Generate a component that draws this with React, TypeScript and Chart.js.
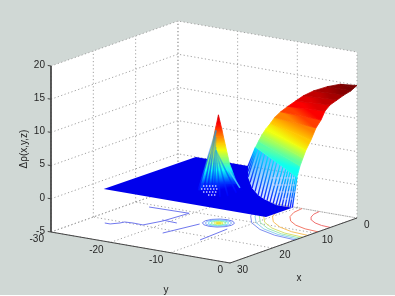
import React, { useEffect, useRef } from "react";
import { Chart, registerables } from "chart.js";

Chart.register(...registerables);

// ---------- axis ticks ----------
const xTicks = [0, 10, 20, 30];
const yTicks = [-30, -20, -10, 0];
const zTicks = [-5, 0, 5, 10, 15, 20];

// ---------- surface: broad ridge around x=0, y=0 ----------
const arcZ = [14.95, 14.7, 14, 13, 12, 11, 10, 9, 8, 7, 6, 5, 4, 3];
const arcLeftY = [0, -2.85, -5, -7.3, -9, -10.3, -11.6, -12.8, -13.8, -14.5, -15.3, -15.95, -16.5, -17];
const arcRightX = [0, 0.6, 0, -0.56, -0.75, -0.94, -0.84, 0.53, 1.52, 4.31, 6.21, 7.05, 7.89, 10.08];
const arcRightY = [0, -0.08, -1, -2.57, -3.88, -5.19, -5.95, -5.65, -5.79, -4.65, -4.14, -4.05, -3.95, -2.9];

const finTopX = [0, 0.2, 0.4, 1.01, 1.51, 2.22, 3.02, 3.73, 4.44, 5.14, 5.95, 6.65, 7.36, 7.86, 8.37, 8.87, 9.37, 9.78, 10.08];
const finTopY = [-17, -16.72, -16.44, -15.59, -14.89, -13.9, -12.77, -11.78, -10.8, -9.81, -8.68, -7.69, -6.71, -6, -5.3, -4.59, -3.89, -3.32, -2.9];
const finBaseX = [0, 2.5, 4.95, 7.26, 9.57, 10.9, 12.24, 12.9, 13.57, 14, 14.44, 14.88, 15.32, 15.32, 15.31, 15.3, 15.29, 15.28, 15.27];
const finBaseY = [-18.25, -16.5, -14.75, -12.78, -10.8, -9.35, -7.9, -6.93, -5.96, -5.15, -4.33, -3.5, -2.7, -2.2, -1.7, -1.2, -0.71, -0.35, 0];
const hatchX = [[6.51, 4.65], [9.65, 7.8], [12.32, 10.92], [15.14, 14.05]];
const hatchY = [[-9.62, -6.92], [-7.4, -4.69], [-4.5, -2.47], [-1.82, -0.25]];

// ---------- flat sheet at z = 0 ----------
const sheetX = [21.5, 0, 0, 4.95, 9.57, 12.24, 13.57, 14.44, 15.32, 15.29, 15.27, 21.5];
const sheetY = [-27.2, -27, -18.25, -14.75, -10.8, -7.9, -5.96, -4.33, -2.7, -0.71, 0, 0];

// ---------- narrow peak near x=13, y=-14 ----------
const peakZ = [11.3, 10, 9, 8, 7, 6, 5, 4, 3, 2, 1, 0];
const peakLeftX = [13, 13.14, 13.26, 13.36, 13.47, 13.6, 13.78, 13.93, 14.09, 14.24, 14.4, 14.55];
const peakLeftY = [-14, -14.2, -14.37, -14.53, -14.68, -14.88, -15.13, -15.35, -15.58, -15.8, -16.03, -16.25];
const peakRightX = [13, 12.85, 12.72, 12.61, 12.49, 12.38, 12.26, 12.15, 11.95, 11.76, 11.53, 11.14];
const peakRightY = [-14, -13.77, -13.59, -13.44, -13.26, -13.1, -12.92, -12.76, -12.48, -12.2, -11.86, -11.3];
const peakFootX = [14.55, 14.9, 15.4, 15.8, 16.08, 16.08, 15, 13];
const peakFootY = [-16.25, -15.2, -14.2, -13.2, -12.5, -11.55, -11, -11];
const peakMeshTopZ = [9, 9, 9, 8, 6.5, 6, 6, 6];
const peakDotsX = [[12.47, 11.4], [13.97, 12.58], [15.16, 14], [16.11, 15.5]];
const peakDotsY = [[-16.96, -15.38], [-16.23, -14.2], [-15.05, -13.36], [-13.54, -12.64]];

// ---------- contours on the floor, z = -5 ----------
const arcRadii = [6.3, 9.2, 11.6, 12.8, 13.4, 14, 14.6];
const arcColors = ["#f07070", "#f47a6a", "#f8c060", "#d8e070", "#a0e8b0", "#90d0f0", "#8090f0"];
const arcCos = [1, 0.966, 0.866, 0.707, 0.5, 0.259, 0];
const arcSin = [0, 0.259, 0.5, 0.707, 0.866, 0.966, 1];
const ringRadii = [2.2, 1.8, 1.4, 1, 0.6, 0.3];
const ringColors = ["#7080f0", "#80b0f8", "#70e0f0", "#90f0a0", "#e8f060", "#e8e020"];
const ringCos = [1, 0.866, 0.5, 0, -0.5, -0.866, -1, -0.866, -0.5, 0, 0.5, 0.866, 1];
const ringSin = [0, 0.5, 0.866, 1, 0.866, 0.5, 0, -0.5, -0.866, -1, -0.866, -0.5, 0];
const ringCenterX = 13;
const ringCenterY = -14;
const stepLinesX = [
  [21.8, 21.8, 20.6, 19.8, 19.6, 19.7, 16.4, 10.9],
  [11.2, 10.9],
  [16, 16.2],
  [21.8, 14.9],
  [22, 15],
];
const stepLinesY = [
  [-26.8, -25.9, -25.1, -24.9, -23.6, -21.9, -20.9, -20.4],
  [-26.9, -20.4],
  [-21.3, -18.7],
  [-17.1, -15.8],
  [-10.7, -11.1],
];

// ---------- colour map over z ----------
const colorZ = [-0.3, 0.5, 2.8, 6.2, 9.9, 14.5];
const colorRGB = [[0, 0, 235], [0, 0, 255], [0, 255, 255], [255, 255, 0], [255, 0, 0], [120, 0, 0]];

const BG = "#d0d8d5";

function zColor(z: number, a = 1) {
  let i = 0;
  while (i < colorZ.length - 2 && z > colorZ[i + 1]) i++;
  const t = Math.max(0, Math.min(1, (z - colorZ[i]) / (colorZ[i + 1] - colorZ[i])));
  const c = colorRGB[i].map((v, k) => Math.round(v + (colorRGB[i + 1][k] - v) * t));
  return `rgba(${c[0]},${c[1]},${c[2]},${a})`;
}

// Orthographic view of the axes box
function view(x: number, y: number, z: number) {
  const u = 30 - x;
  return {
    x: 230 + u * 4.233 + y * 5.967,
    y: 263 - u * 1.5 + y * 1.033 - (z + 5) * 6.64,
  };
}

type P3 = [number, number, number];

const polyline = (pts: P3[], color: string, width = 1, dash: number[] = []) => ({
  type: "scatter" as const,
  showLine: true,
  data: pts.map((p) => view(p[0], p[1], p[2])),
  borderColor: color,
  borderWidth: width,
  borderDash: dash,
  pointRadius: 0,
  clip: false,
  tension: 0,
});

const shape = (pts: P3[], extra: Record<string, unknown>) => ({
  type: "scatter" as const,
  showLine: false,
  data: pts.map((p) => view(p[0], p[1], p[2])),
  pointRadius: 0,
  clip: false,
  ...extra,
});

function buildDatasets() {
  const out: any[] = [];
  // walls and floor
  out.push(
    shape(
      [
        [30, -30, -5],
        [30, -30, 20],
        [0, -30, 20],
        [0, 0, 20],
        [0, 0, -5],
        [30, 0, -5],
      ],
      { solid: "#ffffff" },
    ),
  );
  // grid
  const grid = "#a2a2a2";
  const dash = [1.2, 2.4];
  zTicks.forEach((z) =>
    out.push(polyline([[30, -30, z], [0, -30, z], [0, 0, z]], grid, 1, dash)),
  );
  xTicks.forEach((x) => {
    out.push(polyline([[x, -30, -5], [x, -30, 20]], grid, 1, dash));
    out.push(polyline([[x, 0, -5], [x, -30, -5]], grid, 1, dash));
  });
  yTicks.forEach((y) => {
    out.push(polyline([[0, y, -5], [0, y, 20]], grid, 1, dash));
    out.push(polyline([[30, y, -5], [0, y, -5]], grid, 1, dash));
  });
  // floor contours
  stepLinesX.forEach((xs, i) =>
    out.push(polyline(xs.map((x, k) => [x, stepLinesY[i][k], -5] as P3), "#7078ee", 1)),
  );
  arcRadii.forEach((r, i) =>
    out.push(polyline(arcCos.map((c, k) => [r * c, -r * arcSin[k], -5] as P3), arcColors[i], 1)),
  );
  ringRadii.forEach((r, i) =>
    out.push(
      polyline(
        ringCos.map((c, k) => [ringCenterX + r * c, ringCenterY - r * ringSin[k], -5] as P3),
        ringColors[i],
        1,
      ),
    ),
  );
  // sheet
  out.push(shape(sheetX.map((x, i) => [x, sheetY[i], 0] as P3), { solid: "rgb(0,0,236)" }));

  // ridge: lower translucent region and its fins
  out.push(
    shape(
      [
        [finTopX[0], finTopY[0], 3],
        [finTopX[18], finTopY[18], 3],
        ...finBaseX.map((x, i) => [x, finBaseY[i], 0] as P3).reverse(),
      ],
      { vertical: ["rgba(0,170,255,0.85)", "rgba(130,150,255,0.12)"] },
    ),
  );
  finTopX.forEach((x, i) => {
    out.push(
      shape([[x, finTopY[i], 3], [finBaseX[i], finBaseY[i], 0]], {
        stroke: [zColor(2.6), "rgb(20,30,255)"],
        strokeWidth: 1.3,
      }),
    );
  });
  hatchX.forEach((xs, i) =>
    out.push(
      polyline(
        [[xs[0], hatchY[i][0], 1], [xs[1], hatchY[i][1], 1]],
        "rgba(205,215,255,0.85)",
        1,
        [3, 1],
      ),
    ),
  );
  // ridge: colour bands
  for (let i = arcZ.length - 2; i >= 0; i--) {
    out.push(
      shape(
        [
          [0, arcLeftY[i], arcZ[i]],
          [arcRightX[i], arcRightY[i], arcZ[i]],
          [arcRightX[i + 1], arcRightY[i + 1], arcZ[i + 1]],
          [0, arcLeftY[i + 1], arcZ[i + 1]],
        ],
        { band: [zColor(arcZ[i]), zColor(arcZ[i + 1])] },
      ),
    );
  }

  // peak: colour bands
  for (let i = peakZ.length - 2; i >= 0; i--) {
    out.push(
      shape(
        [
          [peakLeftX[i], peakLeftY[i], peakZ[i]],
          [peakRightX[i], peakRightY[i], peakZ[i]],
          [peakRightX[i + 1], peakRightY[i + 1], peakZ[i + 1]],
          [peakLeftX[i + 1], peakLeftY[i + 1], peakZ[i + 1]],
        ],
        { band: [zColor(peakZ[i]), zColor(peakZ[i + 1])] },
      ),
    );
  }
  // peak: mesh lines falling to its foot
  peakFootX.forEach((x, i) => {
    out.push(
      shape([[13.3, -14.2, peakMeshTopZ[i]], [x, peakFootY[i], 0]], {
        stroke: ["rgba(0,170,255,0.3)", "rgba(0,0,255,0.9)"],
        strokeWidth: 1.6,
      }),
    );
  });
  out.push(
    shape([[12.3, -13.05, 3.4], [11.3, -11.6, 0.3]], {
      stroke: ["rgba(60,230,240,1)", "rgba(60,170,255,1)"],
      strokeWidth: 1.5,
    }),
  );
  peakDotsX.forEach((xs, i) =>
    out.push(
      polyline(
        [[xs[0], peakDotsY[i][0], 0], [xs[1], peakDotsY[i][1], 0]],
        "rgba(225,230,255,0.9)",
        1.4,
        [1.4, 1.6],
      ),
    ),
  );

  // solid axes
  const axis = "#454545";
  out.push(polyline([[30, -30, 20], [30, -30, -5], [30, 0, -5], [0, 0, -5]], axis, 1));
  zTicks.forEach((z) => out.push(polyline([[30, -30, z], [30, -30.55, z]], axis, 1)));
  return out.reverse();
}

const surfacePainter = {
  id: "surfacePainter",
  beforeDraw(chart: any) {
    const { ctx } = chart;
    ctx.save();
    ctx.fillStyle = BG;
    ctx.fillRect(0, 0, 395, 295);
    ctx.restore();
  },
  beforeDatasetDraw(chart: any, args: any) {
    const ds = chart.data.datasets[args.index];
    const pts = args.meta.data;
    if (!pts.length) return;
    const { ctx } = chart;
    const trace = () => {
      ctx.beginPath();
      pts.forEach((p: any, i: number) => (i ? ctx.lineTo(p.x, p.y) : ctx.moveTo(p.x, p.y)));
    };
    ctx.save();
    if (ds.solid) {
      trace();
      ctx.closePath();
      ctx.fillStyle = ds.solid;
      ctx.fill();
    }
    if (ds.band) {
      const g = ctx.createLinearGradient(
        (pts[0].x + pts[1].x) / 2,
        (pts[0].y + pts[1].y) / 2,
        (pts[2].x + pts[3].x) / 2,
        (pts[2].y + pts[3].y) / 2,
      );
      g.addColorStop(0, ds.band[0]);
      g.addColorStop(1, ds.band[1]);
      trace();
      ctx.closePath();
      ctx.fillStyle = g;
      ctx.strokeStyle = g;
      ctx.lineWidth = 0.8;
      ctx.fill();
      ctx.stroke();
    }
    if (ds.vertical) {
      const ys = pts.map((p: any) => p.y);
      const g = ctx.createLinearGradient(0, Math.min(...ys), 0, Math.max(...ys));
      g.addColorStop(0, ds.vertical[0]);
      g.addColorStop(1, ds.vertical[1]);
      trace();
      ctx.closePath();
      ctx.fillStyle = g;
      ctx.fill();
    }
    if (ds.stroke) {
      const g = ctx.createLinearGradient(pts[0].x, pts[0].y, pts[1].x, pts[1].y);
      g.addColorStop(0, ds.stroke[0]);
      g.addColorStop(1, ds.stroke[1]);
      trace();
      ctx.strokeStyle = g;
      ctx.lineWidth = ds.strokeWidth;
      ctx.stroke();
    }
    ctx.restore();
  },
  afterDatasetsDraw(chart: any) {
    const { ctx, scales } = chart;
    const at = (p: { x: number; y: number }) => ({
      x: scales.x.getPixelForValue(p.x),
      y: scales.y.getPixelForValue(p.y),
    });
    ctx.save();
    ctx.fillStyle = "#262626";
    ctx.font = '10px "Liberation Sans"';
    ctx.textBaseline = "middle";
    ctx.textAlign = "right";
    zTicks.forEach((z) => {
      const p = at(view(30, -30, z));
      ctx.fillText(String(z), p.x - 6, p.y - 1);
    });
    yTicks.forEach((y) => {
      const p = at(view(30, y, -5));
      ctx.fillText(String(y), p.x - 7, p.y + 7.5);
    });
    ctx.textAlign = "left";
    xTicks.forEach((x) => {
      const p = at(view(x, 0, -5));
      ctx.fillText(String(x), p.x + 7, p.y + 7);
    });
    ctx.textAlign = "center";
    ctx.fillText("y", 166, 290);
    ctx.fillText("x", 299, 278);
    ctx.translate(24, 149);
    ctx.rotate(-Math.PI / 2);
    ctx.fillText("Δρ(x,y,z)", 0, 0);
    ctx.restore();
  },
};

export default function App() {
  const ref = useRef<HTMLCanvasElement | null>(null);
  useEffect(() => {
    if (!ref.current) return;
    const chart = new Chart(ref.current, {
      type: "scatter",
      data: { datasets: buildDatasets() },
      options: {
        animation: false,
        responsive: false,
        events: [],
        layout: { padding: 0 },
        plugins: { legend: { display: false }, tooltip: { enabled: false }, title: { display: false } },
        scales: {
          x: { type: "linear", display: false, min: 0, max: 395 },
          y: { type: "linear", display: false, min: 0, max: 296, reverse: true },
        },
      },
      plugins: [surfacePainter],
    } as any);
    return () => chart.destroy();
  }, []);
  return (
    <div style={{ position: "fixed", left: 0, top: 0, width: 395, height: 296, background: "#fff" }}>
      <canvas ref={ref} width={395} height={296} style={{ display: "block" }} />
    </div>
  );
}
